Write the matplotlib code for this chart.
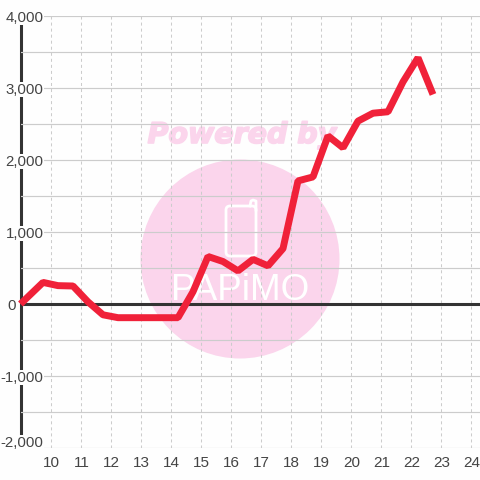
import matplotlib
matplotlib.use("Agg")
import matplotlib.pyplot as plt
import matplotlib.patheffects as pe
from matplotlib.patches import Circle, FancyBboxPatch
from matplotlib.lines import Line2D
from matplotlib.transforms import Affine2D, ScaledTranslation
from matplotlib.ticker import FuncFormatter, MultipleLocator

hours = [9.0, 9.75, 10.25, 10.75, 11.25, 11.75, 12.25, 12.75, 13.25, 13.75, 14.25,
         14.75, 15.25, 15.75, 16.25, 16.75, 17.25, 17.75, 18.25, 18.75, 19.25, 19.75,
         20.25, 20.75, 21.25, 21.75, 22.25, 22.75]
values = [0, 300, 255, 250, 30, -150, -190, -190, -190, -190, -190,
          170, 660, 590, 460, 620, 530, 770, 1710, 1765, 2335, 2170,
          2540, 2650, 2670, 3085, 3420, 2910]
x_ticks = list(range(10, 25))
y_ticks = [-2000, -1000, 0, 1000, 2000, 3000, 4000]

plt.rcParams['font.family'] = ['Liberation Sans', 'DejaVu Sans']
W = H = 480
BG = '#fefefe'
fig = plt.figure(figsize=(4.8, 4.8), dpi=100, facecolor=BG)
ax = fig.add_axes([20.5 / W, 32 / H, 459.5 / W, 432 / H], facecolor=BG)
ax.set_xlim(9.0, 9.0 + 459.5 / 30)
ax.set_ylim(-2000, 4000)
for s in ax.spines.values():
    s.set_visible(False)

px = Affine2D().scale(1, -1).translate(0, H)
pink = '#fbd5ec'
ax.add_patch(Circle((240, 259), 99.5, transform=px, fc=pink, ec='none', zorder=0.5, clip_on=False))
ax.add_patch(FancyBboxPatch((226, 206), 30, 50, boxstyle='round,pad=0,rounding_size=4', transform=px,
                            fc='none', ec='white', lw=2, zorder=0.6, clip_on=False))
ax.add_line(Line2D([250, 251, 253, 256, 256], [206, 201, 200, 201, 210], transform=px,
                   color='white', lw=2, zorder=0.6))
ax.text(242, 135, 'Powered by', transform=px, color=pink, fontsize=20.5, fontweight='bold',
        fontstyle='italic', ha='center', va='center', zorder=0.6, family='DejaVu Sans',
        path_effects=[pe.withStroke(linewidth=1.2, foreground=pink)])
ax.text(240, 290, 'PAPiMO', transform=px, color='white', fontsize=26.5, ha='center', va='center',
        zorder=0.6, family='Liberation Sans')

ax.set_axisbelow(False)
ax.set_xticks(x_ticks)
ax.set_yticks(y_ticks)
ax.yaxis.set_minor_locator(MultipleLocator(500))
ax.yaxis.set_major_formatter(FuncFormatter(lambda v, _: f'{int(v):,}'))
ax.grid(True, axis='y', which='both', color='#cccccc', lw=0.85, zorder=1)
ax.grid(True, axis='x', which='major', color='#cccccc', lw=0.75, ls=(0, (2.9, 2.9)))
ax.tick_params(axis='both', which='both', length=0)
ax.tick_params(axis='x', pad=5.5, labelsize=11, labelcolor='#444444')
ax.tick_params(axis='y', pad=-16.5, labelsize=10.8, labelcolor='#444444')

for tick in ax.xaxis.get_major_ticks():
    lab = tick.label1
    lab.set_transform(lab.get_transform() + ScaledTranslation(1 / 100, 0, fig.dpi_scale_trans))

for tick, v in zip(ax.yaxis.get_major_ticks(), y_ticks):
    if v == 0:
        tick.set_pad(3.2)
    lab = tick.label1
    if v == -2000:
        lab.set_transform(lab.get_transform() + ScaledTranslation(0, 6.5 / 100, fig.dpi_scale_trans))
    if v == 0:
        lab.set_transform(lab.get_transform() + ScaledTranslation(0, -1 / 100, fig.dpi_scale_trans))
    lab.set_bbox(dict(facecolor=BG, edgecolor='none', pad=0.5))

ax.axvline(9.0, color='#333333', lw=2.2, zorder=2, clip_on=False)
ax.axhline(0, color='#333333', lw=2.2, zorder=2.6)
ax.plot(hours, values, color='#f02139', lw=5, zorder=3, clip_on=False,
        solid_joinstyle='bevel', solid_capstyle='butt')

fig.savefig('out.png', dpi=100, facecolor=fig.get_facecolor())
